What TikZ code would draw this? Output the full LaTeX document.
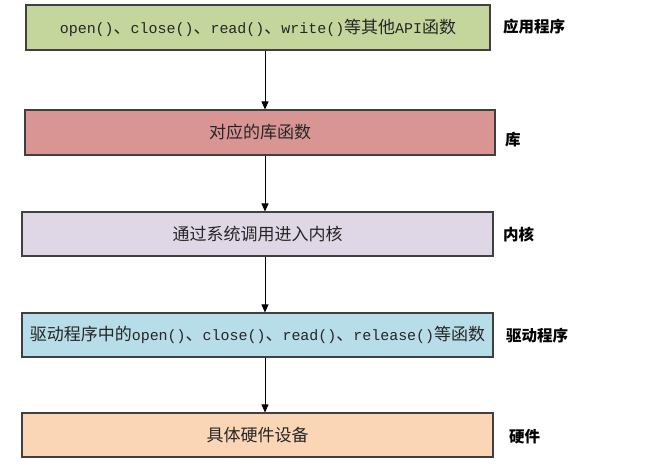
\documentclass[tikz,border=0pt]{standalone}
\usepackage{fontspec}
\setmainfont{Noto Sans CJK SC}
\newfontfamily\cjk{Noto Sans CJK SC}
\newfontfamily\mono[Scale=0.88]{Liberation Mono}
\usetikzlibrary{arrows.meta}
\definecolor{cgreen}{HTML}{C4D69C}
\definecolor{cred}{HTML}{D99594}
\definecolor{cpurple}{HTML}{DFD7E6}
\definecolor{cblue}{HTML}{B7DDE8}
\definecolor{corange}{HTML}{FAD5B6}
\definecolor{cedge}{HTML}{404040}
\begin{document}
\begin{tikzpicture}[x=1pt,y=-1pt,
  layer/.style={draw=cedge,line width=1.1pt,rectangle,inner sep=0pt,
    font=\fontsize{17}{19}\selectfont,text=black!85},
  side/.style={anchor=west,inner sep=0pt,font=\fontsize{15.5}{17}\selectfont\bfseries},
  flow/.style={line width=0.9pt,-{Triangle[width=7pt,length=8pt]}}]
\useasboundingbox (0,0) rectangle (652,467);
\node[layer,fill=cgreen,minimum width=464pt,minimum height=45pt] (b1) at (258,27.5)
  {{\mono open()}、{\mono close()}、{\mono read()}、{\mono write()}等其他{\mono API}函数};
\node[layer,fill=cred,minimum width=470pt,minimum height=45pt] (b2) at (260,132.5) {对应的库函数};
\node[layer,fill=cpurple,minimum width=471pt,minimum height=44pt] (b3) at (257.5,234) {通过系统调用进入内核};
\node[layer,fill=cblue,minimum width=471pt,minimum height=44pt] (b4) at (257.5,335)
  {驱动程序中的{\mono open()}、{\mono close()}、{\mono read()}、{\mono release()}等函数};
\node[layer,fill=corange,minimum width=471pt,minimum height=44pt] (b5) at (257.5,435) {具体硬件设备};
\node[side] (l1) at (503,27) {应用程序};
\node[side] (l2) at (505,140) {库};
\node[side] (l3) at (503,235) {内核};
\node[side] (l4) at (506,336) {驱动程序};
\node[side] (l5) at (509,437) {硬件};
\coordinate (ax) at (265,0);
\draw[flow] (b1.south -| ax) -- (b2.north -| ax);
\draw[flow] (b2.south -| ax) -- (b3.north -| ax);
\draw[flow] (b3.south -| ax) -- (b4.north -| ax);
\draw[flow] (b4.south -| ax) -- (b5.north -| ax);
\end{tikzpicture}
\end{document}
